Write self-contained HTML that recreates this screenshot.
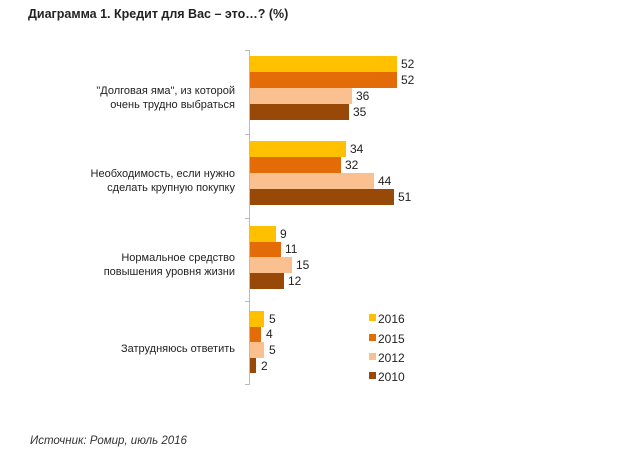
<!DOCTYPE html>
<html><head><meta charset="utf-8"><style>
body{margin:0;background:#fff;}
svg text{font-family:"Liberation Sans",sans-serif;}
</style></head><body>
<svg width="626" height="458" xmlns="http://www.w3.org/2000/svg">
<rect width="626" height="458" fill="#fff"/>
<text x="28" y="18" font-size="12.5" font-weight="bold" fill="#222">Диаграмма 1. Кредит для Вас – это…? (%)</text>
<g stroke="#bbb" stroke-width="1">
<line x1="249.5" y1="50" x2="249.5" y2="385"/>
<line x1="245" y1="50.5" x2="249" y2="50.5"/>
<line x1="245" y1="134.5" x2="249" y2="134.5"/>
<line x1="245" y1="218.5" x2="249" y2="218.5"/>
<line x1="245" y1="301.5" x2="249" y2="301.5"/>
<line x1="245" y1="384.5" x2="249" y2="384.5"/>
</g>
<g font-size="11" fill="#222" text-anchor="end">
<text x="235" y="94">"Долговая яма", из которой</text>
<text x="235" y="108">очень трудно выбраться</text>
<text x="235" y="177">Необходимость, если нужно</text>
<text x="235" y="191">сделать крупную покупку</text>
<text x="235" y="261">Нормальное средство</text>
<text x="235" y="275">повышения уровня жизни</text>
<text x="235" y="352">Затрудняюсь ответить</text>
</g>
<g id="bars" font-size="12" fill="#222">
<rect x="250" y="56" width="147" height="16" fill="#FFC000"/><text x="401" y="68">52</text>
<rect x="250" y="72" width="147" height="16" fill="#E36C09"/><text x="401" y="84">52</text>
<rect x="250" y="88" width="102" height="16" fill="#FAC090"/><text x="356" y="100">36</text>
<rect x="250" y="104" width="99" height="16" fill="#984807"/><text x="353" y="116">35</text>

<rect x="250" y="141" width="96" height="16" fill="#FFC000"/><text x="350" y="153">34</text>
<rect x="250" y="157" width="91" height="16" fill="#E36C09"/><text x="345" y="169">32</text>
<rect x="250" y="173" width="124" height="16" fill="#FAC090"/><text x="378" y="185">44</text>
<rect x="250" y="189" width="144" height="16" fill="#984807"/><text x="398" y="201">51</text>

<rect x="250" y="226" width="26" height="16" fill="#FFC000"/><text x="280" y="238">9</text>
<rect x="250" y="242" width="31" height="15" fill="#E36C09"/><text x="285" y="253">11</text>
<rect x="250" y="257" width="42" height="16" fill="#FAC090"/><text x="296" y="269">15</text>
<rect x="250" y="273" width="34" height="16" fill="#984807"/><text x="288" y="285">12</text>

<rect x="250" y="311" width="14" height="16" fill="#FFC000"/><text x="269" y="323">5</text>
<rect x="250" y="327" width="11" height="15" fill="#E36C09"/><text x="266" y="338">4</text>
<rect x="250" y="342" width="14" height="16" fill="#FAC090"/><text x="269" y="354">5</text>
<rect x="250" y="358" width="6" height="15" fill="#984807"/><text x="261" y="370">2</text>
</g>
<g font-size="12" fill="#222">
<rect x="369" y="314" width="7" height="7" fill="#FFC000"/><text x="378" y="323">2016</text>
<rect x="369" y="334" width="7" height="7" fill="#E36C09"/><text x="378" y="343">2015</text>
<rect x="369" y="353" width="7" height="7" fill="#FAC090"/><text x="378" y="362">2012</text>
<rect x="369" y="372" width="7" height="7" fill="#984807"/><text x="378" y="381">2010</text>
</g>
<text x="30" y="444" font-size="11.5" font-style="italic" fill="#333">Источник: Ромир, июль 2016</text>
</svg>
</body></html>
